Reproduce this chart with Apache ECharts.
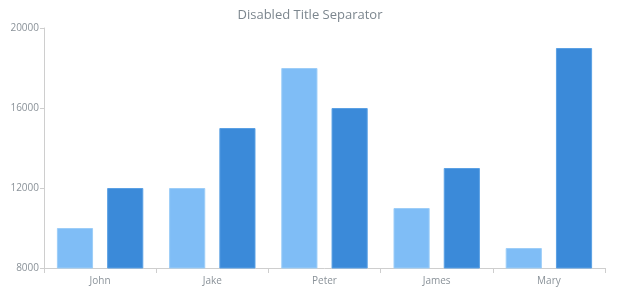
<!DOCTYPE html>
<html><head><meta charset="utf-8">
<script src="https://cdn.jsdelivr.net/npm/echarts@6/dist/echarts.min.js"></script>
<style>html,body{margin:0;padding:0;background:#fff}#c{width:620px;height:300px}</style>
</head><body><div id="c"></div>
<script>
var titleText = 'Disabled Title Separator';
var categories = ['John', 'Jake', 'Peter', 'James', 'Mary'];
var series1 = [10000, 12000, 18000, 11000, 9000];
var series2 = [12000, 15000, 16000, 13000, 19000];
var yTicks = [8000, 12000, 16000, 20000];

var chart = echarts.init(document.getElementById('c'));
var fontFam = '"Open Sans", "Noto Sans", sans-serif';
chart.setOption({
  animation: false,
  backgroundColor: '#fff',
  title: {
    text: titleText, left: 'center', top: 4,
    textStyle: {fontFamily: fontFam, fontSize: 13, fontWeight: 'normal', color: '#7c868e'}
  },
  grid: {left: 44, right: 15, top: 28, bottom: 32},
  xAxis: {
    type: 'category', data: categories,
    axisLine: {lineStyle: {color: '#cecece'}},
    axisTick: {show: true, length: 5, lineStyle: {color: '#cecece'}},
    axisLabel: {fontFamily: fontFam, fontSize: 10, color: '#8a9299', margin: 8}
  },
  yAxis: {
    type: 'value', min: yTicks[0], max: yTicks[yTicks.length - 1], interval: 4000,
    axisLine: {show: true, lineStyle: {color: '#cecece'}},
    axisTick: {show: true, length: 4, lineStyle: {color: '#cecece'}},
    splitLine: {show: false},
    axisLabel: {fontFamily: fontFam, fontSize: 10, color: '#8a9299', margin: 5,
      formatter: function (v) { return String(v); }}
  },
  series: [
    {type: 'bar', data: series1, barGap: '39%', barCategoryGap: '23%',
     itemStyle: {color: '#7fbdf6', borderColor: '#9ccdf8', borderWidth: 1}},
    {type: 'bar', data: series2,
     itemStyle: {color: '#3b8ad9', borderColor: '#5aa0e4', borderWidth: 1}}
  ]
});
</script></body></html>
